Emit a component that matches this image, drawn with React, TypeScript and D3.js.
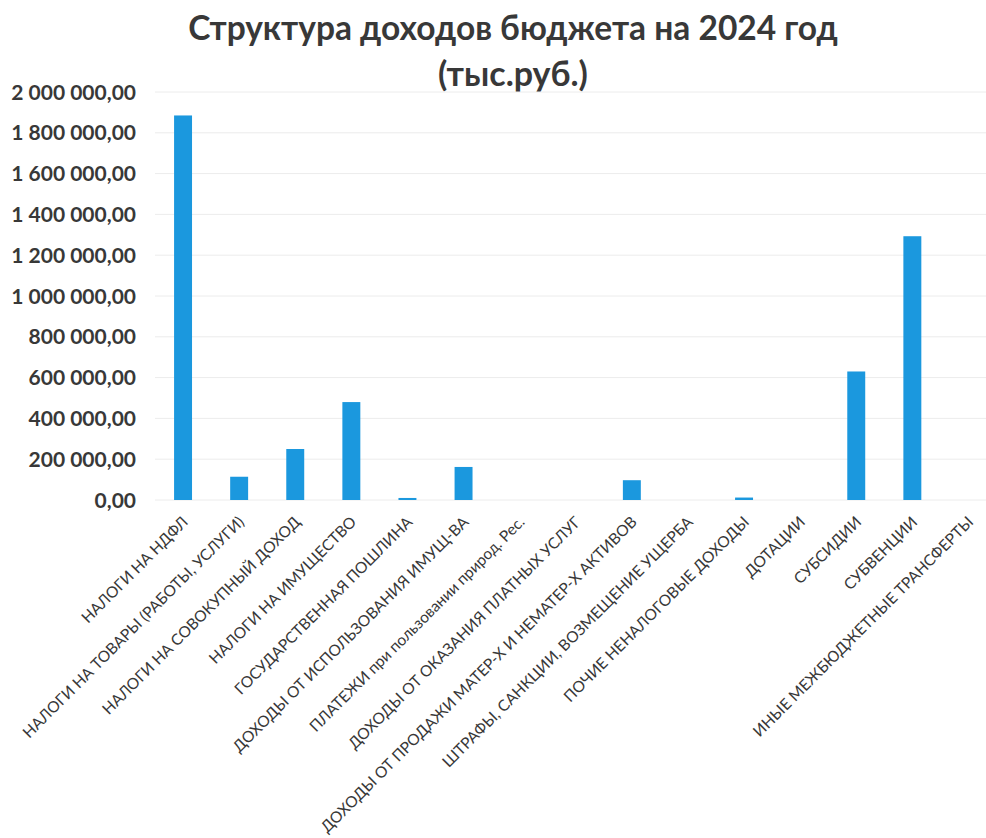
import React from "react";
import * as d3 from "d3";

const categories = [
  "НАЛОГИ НА НДФЛ",
  "НАЛОГИ НА ТОВАРЫ (РАБОТЫ, УСЛУГИ)",
  "НАЛОГИ НА СОВОКУПНЫЙ ДОХОД",
  "НАЛОГИ НА ИМУЩЕСТВО",
  "ГОСУДАРСТВЕННАЯ ПОШЛИНА",
  "ДОХОДЫ ОТ ИСПОЛЬЗОВАНИЯ ИМУЩ-ВА",
  "ПЛАТЕЖИ при пользовании природ. Рес.",
  "ДОХОДЫ ОТ ОКАЗАНИЯ ПЛАТНЫХ УСЛУГ",
  "ДОХОДЫ ОТ ПРОДАЖИ МАТЕР-Х И НЕМАТЕР-Х АКТИВОВ",
  "ШТРАФЫ, САНКЦИИ, ВОЗМЕЩЕНИЕ УЩЕРБА",
  "ПОЧИЕ НЕНАЛОГОВЫЕ ДОХОДЫ",
  "ДОТАЦИИ",
  "СУБСИДИИ",
  "СУБВЕНЦИИ",
  "ИНЫЕ МЕЖБЮДЖЕТНЫЕ ТРАНСФЕРТЫ",
];

const values = [
  1885000, 114000, 250000, 480000, 10000, 162000, 0, 0, 97000, 0, 12000, 0,
  630000, 1293000, 0,
];

const yTicks = [0, 200000, 400000, 600000, 800000, 1000000, 1200000, 1400000, 1600000, 1800000, 2000000];

const titleLines = ["Структура доходов бюджета на 2024 год", "(тыс.руб.)"];

const W = 986;
const H = 838;
const margin = { top: 92, left: 155, bottom: 338 };
const bandWidth = 56.1;

// russian style: "1 800 000,00"
const fmt = (v: number) =>
  d3.format(",.2f")(v).replace(/,/g, " ").replace(".", ",");

export default function App() {
  const x = d3
    .scaleBand()
    .domain(categories)
    .range([margin.left, margin.left + bandWidth * categories.length])
    .paddingInner(0.68)
    .paddingOuter(0.34);

  const y = d3
    .scaleLinear()
    .domain([0, 2000000])
    .range([H - margin.bottom, margin.top]);

  const textColor = "#383838";
  const font = "Lato, 'Open Sans', sans-serif";

  return (
    <svg
      width={W}
      height={H}
      style={{ position: "absolute", left: 0, top: 0, background: "#fff" }}
      fontFamily={font}
    >
      {/* title */}
      {titleLines.map((t, i) => (
        <text
          key={t}
          x={513}
          y={40 + i * 46}
          textAnchor="middle"
          fontSize={i === 0 ? 33.5 : 34}
          fontWeight="bold"
          fill={textColor}
        >
          {t}
        </text>
      ))}

      {/* gridlines */}
      <g>
        {yTicks.map((t) => (
          <line
            key={t}
            x1={margin.left}
            x2={W}
            y1={y(t)}
            y2={y(t)}
            stroke="#ececec"
            strokeWidth={1}
          />
        ))}
      </g>

      {/* y tick labels */}
      <g>
        {yTicks.map((t) => (
          <text
            key={t}
            x={136}
            y={y(t)}
            dy="0.36em"
            textAnchor="end"
            fontSize={21}
            fontWeight="bold"
            fill={textColor}
          >
            {fmt(t)}
          </text>
        ))}
      </g>

      {/* bars */}
      <g fill="#1b98de">
        {categories.map((c, i) => (
          <rect
            key={c}
            x={x(c)}
            y={y(values[i])}
            width={x.bandwidth()}
            height={y(0) - y(values[i])}
          />
        ))}
      </g>

      {/* category labels */}
      <g>
        {categories.map((c) => {
          const cx = (x(c) as number) + x.bandwidth() / 2;
          return (
            <text
              key={c}
              transform={`translate(${cx + 6},${y(0) + 23}) rotate(-45)`}
              textAnchor="end"
              fontSize={15.5}
              fill={textColor}
            >
              {c}
            </text>
          );
        })}
      </g>
    </svg>
  );
}
